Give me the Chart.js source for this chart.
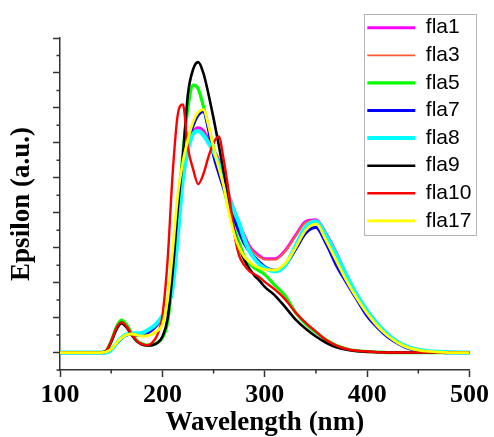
<!DOCTYPE html>
<html>
<head>
<meta charset="utf-8">
<script src="https://cdn.jsdelivr.net/npm/chart.js@4.4.1/dist/chart.umd.min.js"></script>
<style>
html,body{margin:0;padding:0;background:#ffffff;}
canvas{display:block;}
</style>
</head>
<body>
<canvas id="c" width="494" height="437"></canvas>
<script>
// ---------------- data ----------------
const wavelengths = [100, 140,145,150,155,160,165,170,175,180,185,190,195,
  200,205,210,215,220,225,230,235,240,245,250,255,260,265,270,275,280,285,290,295,300,
  310,320,330,340,350,360,370,380,390,400,410,420,430,440,450,460,470,480, 500];

const fla1 = [0,0,0,0.08,0.25,0.42,0.51,0.53,0.5,0.49,0.55,0.64,0.8,
  1.0,1.3,1.9,3.5,5.2,5.9,6.3,6.43,6.35,6.1,5.8,5.5,5.0,4.5,4.1,3.7,3.35,3.05,2.88,2.76,2.68,
  2.68,2.92,3.35,3.75,3.8,3.4,2.85,2.2,1.65,1.2,0.8,0.5,0.3,0.16,0.08,0.04,0.02,0.01, 0];
const fla3 = [0,0,0,0.08,0.24,0.4,0.5,0.52,0.5,0.48,0.54,0.63,0.79,
  1.0,1.3,1.9,3.45,5.15,5.85,6.25,6.38,6.3,6.05,5.75,5.45,4.98,4.48,4.08,3.68,3.32,3.02,2.85,2.73,2.66,
  2.66,2.9,3.33,3.72,3.78,3.38,2.83,2.18,1.63,1.18,0.79,0.49,0.29,0.15,0.08,0.04,0.02,0.01, 0];
const fla5 = [0,0,0.05,0.33,0.72,0.93,0.8,0.55,0.35,0.25,0.21,0.22,0.28,
  0.42,0.85,2.1,3.9,5.7,7.0,7.65,7.55,7.05,6.45,5.85,5.3,4.7,4.1,3.55,3.15,2.75,2.55,2.42,2.33,2.23,
  1.92,1.62,1.15,0.82,0.58,0.36,0.2,0.1,0.05,0.03,0.01,0,0,0,0,0,0,0, 0];
const fla7 = [0,0,0,0.08,0.25,0.41,0.5,0.53,0.5,0.5,0.56,0.66,0.8,
  1.0,1.28,1.9,3.6,5.2,6.0,6.5,6.8,6.9,6.4,5.65,5.15,4.7,4.3,3.85,3.45,3.12,2.9,2.73,2.58,2.45,
  2.35,2.5,2.95,3.42,3.58,3.12,2.5,2.0,1.52,1.05,0.72,0.45,0.26,0.12,0.06,0.02,0.01,0, 0];
const fla8 = [0,0,0,0.08,0.26,0.42,0.52,0.55,0.55,0.56,0.63,0.72,0.85,
  1.05,1.3,1.85,3.3,4.95,5.8,6.25,6.34,6.22,6.0,5.75,5.4,4.95,4.45,4.05,3.7,3.25,2.9,2.68,2.52,2.42,
  2.32,2.5,3.05,3.6,3.75,3.35,2.8,2.2,1.65,1.2,0.82,0.52,0.3,0.16,0.08,0.04,0.02,0.01, 0];
const fla9 = [0,0,0.04,0.3,0.65,0.83,0.72,0.5,0.32,0.23,0.2,0.21,0.27,
  0.45,0.95,2.3,4.1,5.6,7.4,8.1,8.31,8.0,7.4,6.7,5.95,5.15,4.3,3.5,3.0,2.65,2.4,2.2,2.05,1.88,
  1.63,1.3,0.95,0.68,0.46,0.28,0.15,0.08,0.04,0.02,0.01,0,0,0,0,0,0,0, 0];
const fla10 = [0,0,0.05,0.32,0.7,0.87,0.75,0.52,0.33,0.24,0.21,0.28,0.5,
  1.05,2.6,5.1,6.8,7.1,5.85,5.25,4.82,5.1,5.6,6.0,6.18,5.5,4.55,3.45,2.77,2.5,2.33,2.24,2.15,2.02,
  1.8,1.52,1.15,0.85,0.6,0.36,0.2,0.1,0.05,0.03,0.01,0,0,0,0,0,0,0, 0];
const fla17 = [0,0,0.02,0.1,0.27,0.42,0.51,0.53,0.5,0.47,0.48,0.52,0.62,
  0.8,1.5,2.9,4.5,5.45,6.1,6.6,6.88,6.95,6.5,5.85,5.3,4.75,4.0,3.4,3.0,2.74,2.6,2.48,2.42,2.37,
  2.36,2.55,3.0,3.5,3.68,3.2,2.62,2.05,1.55,1.12,0.76,0.48,0.28,0.14,0.07,0.03,0.01,0, 0];

const seriesNames = ['fla1','fla3','fla5','fla7','fla8','fla9','fla10','fla17'];
const seriesValues = [fla1, fla3, fla5, fla7, fla8, fla9, fla10, fla17];

const xMajorTicks = [100,200,300,400,500];
const xMinorTicks = [150,250,350,450];
const yMajorTicks = [0,1,2,3,4,5,6,7,8,9];
const yMinorTicks = [-0.5,0.5,1.5,2.5,3.5,4.5,5.5,6.5,7.5,8.5];

const xTitle = 'Wavelength (nm)';
const yTitle = 'Epsilon (a.u.)';

// ---------------- styles ----------------
const seriesStyle = {
  fla1:  {color:'#ff00ff', width:3},
  fla3:  {color:'#ff5a36', width:1.8},
  fla5:  {color:'#00ff00', width:3.2},
  fla7:  {color:'#0000ff', width:3.2},
  fla8:  {color:'#00ffff', width:4},
  fla9:  {color:'#000000', width:2.6},
  fla10: {color:'#ff0000', width:2.4},
  fla17: {color:'#ffff00', width:2.8}
};
const axisColor = '#333333';
const axisWidth = 1.5;
const majorTickLen = 7;
const minorTickLen = 3.5;
const legendFrame = {left:364, top:14, right:476, bottom:235};
const legendPad = 6.6;

const datasets = seriesNames.map((name, i) => ({
  label: name,
  data: wavelengths.map((w, j) => ({x: w, y: seriesValues[i][j]})),
  borderColor: seriesStyle[name].color,
  backgroundColor: seriesStyle[name].color,
  borderWidth: seriesStyle[name].width,
  pointRadius: 0,
  pointHoverRadius: 0,
  fill: false,
  cubicInterpolationMode: 'monotone',
  order: seriesNames.length - 1 - i
}));

const extrasPlugin = {
  id: 'extras',
  afterLayout(chart) {
    const lg = chart.legend;
    if (!lg) return;
    lg.left = legendFrame.left - 4 + 0.7;
    lg.top = legendFrame.top - 3.4;
    lg.right = legendFrame.right;
    lg.bottom = chart.chartArea.bottom;
    lg.width = lg.right - lg.left;
    lg.height = lg.bottom - lg.top;
  },
  afterDraw(chart) {
    const ctx = chart.ctx;
    const xs = chart.scales.x, ys = chart.scales.y;
    const area = chart.chartArea;
    ctx.save();
    ctx.strokeStyle = axisColor;
    ctx.lineWidth = axisWidth;
    ctx.beginPath();
    xMinorTicks.forEach(v => {
      const px = xs.getPixelForValue(v);
      ctx.moveTo(px, area.bottom);
      ctx.lineTo(px, area.bottom + minorTickLen);
    });
    yMinorTicks.forEach(v => {
      const py = ys.getPixelForValue(v);
      ctx.moveTo(area.left, py);
      ctx.lineTo(area.left - minorTickLen, py);
    });
    ctx.stroke();
    // legend frame
    ctx.strokeStyle = '#b4b4b4';
    ctx.lineWidth = 1;
    ctx.strokeRect(legendFrame.left + 0.5, legendFrame.top + 0.5,
      legendFrame.right - legendFrame.left, legendFrame.bottom - legendFrame.top);
    ctx.restore();
  }
};

new Chart(document.getElementById('c'), {
  type: 'line',
  data: { datasets },
  plugins: [extrasPlugin],
  options: {
    responsive: false,
    animation: false,
    devicePixelRatio: 1,
    layout: { padding: { top: 38, right: 23, bottom: 0, left: 0 } },
    plugins: {
      tooltip: { enabled: false },
      legend: {
        position: 'chartArea',
        align: 'start',
        labels: {
          usePointStyle: true,
          pointStyleWidth: 48,
          padding: legendPad,
          color: '#000000',
          font: { family: "'Liberation Sans', Arial, sans-serif", size: 21 },
          generateLabels: () => seriesNames.map((name, i) => ({
            text: name,
            fillStyle: seriesStyle[name].color,
            strokeStyle: seriesStyle[name].color,
            lineWidth: seriesStyle[name].width,
            pointStyle: 'line',
            hidden: false,
            datasetIndex: i,
            fontColor: '#000000'
          }))
        }
      }
    },
    scales: {
      x: {
        type: 'linear',
        min: 100, max: 500,
        afterBuildTicks: (s) => { s.ticks = xMajorTicks.map(v => ({value: v})); },
        border: { display: true, color: axisColor, width: axisWidth },
        grid: { display: true, drawOnChartArea: false, drawTicks: true,
                tickLength: majorTickLen, tickColor: axisColor, tickWidth: axisWidth },
        ticks: {
          autoSkip: false, maxRotation: 0, padding: 5, color: '#000000',
          font: { family: "'Liberation Serif', 'Times New Roman', serif", size: 26, weight: 'bold', lineHeight: 1 },
          callback: (v) => String(v)
        },
        title: {
          display: true, text: xTitle, color: '#000000',
          padding: { top: -3, bottom: 0 },
          font: { family: "'Liberation Serif', 'Times New Roman', serif", size: 27, weight: 'bold', lineHeight: 1 }
        }
      },
      y: {
        type: 'linear',
        min: -0.5, max: 9,
        afterBuildTicks: (s) => { s.ticks = yMajorTicks.map(v => ({value: v})); },
        border: { display: true, color: axisColor, width: axisWidth },
        grid: { display: true, drawOnChartArea: false, drawTicks: true,
                tickLength: majorTickLen, tickColor: axisColor, tickWidth: axisWidth },
        ticks: { display: false },
        title: {
          display: true, text: yTitle, color: '#000000',
          padding: { top: 9, bottom: 17 },
          font: { family: "'Liberation Serif', 'Times New Roman', serif", size: 27, weight: 'bold', lineHeight: 1 }
        }
      }
    }
  }
});
</script>
</body>
</html>
